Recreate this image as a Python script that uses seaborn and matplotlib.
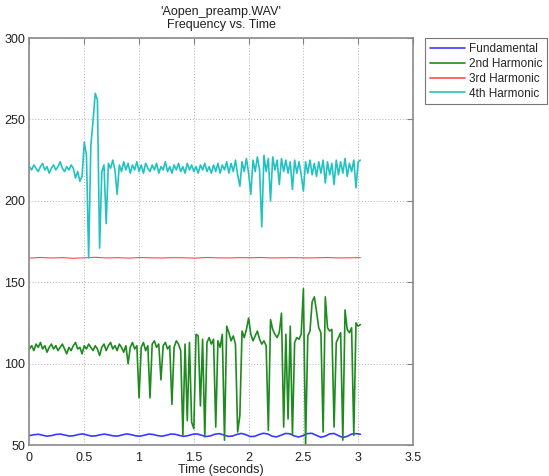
import numpy as np
import pandas as pd
import matplotlib
matplotlib.use("Agg")
import matplotlib.pyplot as plt
import seaborn as sns

title_lines = ["'Aopen_preamp.WAV'", "Frequency vs. Time"]
x_label = "Time (seconds)"
series_names = ["Fundamental", "2nd Harmonic", "3rd Harmonic", "4th Harmonic"]
x_ticks = [0, 0.5, 1, 1.5, 2, 2.5, 3, 3.5]
x_tick_labels = ["0", "0.5", "1", "1.5", "2", "2.5", "3", "3.5"]
y_ticks = [50, 100, 150, 200, 250, 300]

fundamental = [55.8, 56.3, 56.6, 56.0, 55.4, 55.8, 56.5, 56.7, 56.1, 55.5, 55.7, 56.4, 56.8, 56.2,
               55.5, 55.6, 56.3, 56.7, 56.2, 55.6, 55.5, 56.2, 56.8, 56.4, 55.7, 55.4, 56.0, 56.7,
               56.5, 55.8, 55.4, 56.0, 56.7, 56.6, 55.9, 55.3, 55.8, 56.6, 56.8, 56.0, 55.2, 55.6,
               56.6, 57.0, 56.2, 55.3, 55.5, 56.5, 57.1, 56.4, 55.2, 55.3, 56.4, 57.2, 56.8, 55.4,
               55.0, 56.0, 57.1, 56.9, 55.6, 54.9, 55.8, 57.0, 57.2, 56.0, 54.8, 55.4, 56.8, 57.1,
               55.8, 54.6, 55.3, 56.7, 57.0, 56.6]

harmonic2 = [109, 111, 108, 112, 110, 113, 109, 111, 107, 110,
             112, 109, 111, 108, 110, 112, 109, 106, 110, 108,
             111, 113, 109, 110, 106, 111, 109, 112, 110, 108,
             111, 109, 105, 110, 112, 108, 111, 113, 109, 111,
             108, 112, 110, 107, 111, 100, 110, 113, 109, 111,
             79, 110, 113, 108, 111, 79, 112, 114, 110, 112,
             90, 111, 113, 109, 111, 75, 110, 114, 112, 108,
             56, 112, 65, 113, 64, 60, 118, 117, 74, 115,
             55, 113, 116, 112, 115, 61, 114, 110, 118, 53,
             123, 119, 114, 117, 112, 58, 68, 120, 116, 121,
             128, 118, 114, 117, 120, 115, 112, 114, 111, 59,
             127, 121, 118, 116, 119, 131, 61, 118, 66, 123,
             56, 113, 116, 115, 118, 146, 50, 117, 120, 138,
             141, 132, 122, 119, 58, 141, 122, 120, 121, 61,
             113, 116, 119, 53, 133, 121, 119, 122, 56, 125,
             123, 124]

harmonic3 = [164.8, 165.2, 164.9, 165.1, 164.7, 165.0, 165.3, 164.9, 165.1, 164.8, 165.2,
             165.0, 164.9, 165.1, 165.0, 164.8, 165.2, 165.0, 164.9, 165.1, 165.0, 165.2,
             164.9, 165.0, 165.1, 164.9, 165.0, 165.2, 164.9, 165.0, 165.1]

harmonic4 = [221, 219, 222, 220, 218, 221, 223, 219, 221, 217,
             220, 222, 219, 221, 224, 220, 218, 221, 219, 222,
             220, 214, 218, 212, 215, 236, 228, 165, 234, 249,
             266, 262, 171, 218, 222, 186, 223, 220, 225, 219,
             204, 222, 218, 224, 219, 223, 217, 222, 219, 224,
             218, 222, 217, 223, 220, 218, 222, 219, 223, 217,
             221, 219, 224, 218, 221, 217, 222, 219, 223, 218,
             221, 217, 223, 219, 222, 218, 221, 217, 222, 219,
             223, 218, 221, 217, 222, 218, 223, 217, 222, 219,
             224, 217, 223, 218, 225, 216, 209, 224, 218, 226,
             217, 204, 225, 218, 227, 219, 184, 228, 218, 226,
             200, 227, 219, 225, 210, 226, 218, 225, 217, 224,
             207, 225, 217, 224, 216, 206, 224, 217, 225, 216,
             223, 215, 224, 217, 225, 211, 224, 216, 223, 210,
             225, 216, 224, 217, 226, 215, 223, 218, 225, 208,
             224, 225]

end_time = 3.02
all_values = [fundamental, harmonic2, harmonic3, harmonic4]

frames = []
for name, vals in zip(series_names, all_values):
    t = np.linspace(0, end_time, len(vals))
    frames.append(pd.DataFrame({"time": t, "freq": vals, "series": name}))
df = pd.concat(frames, ignore_index=True)

palette = {"Fundamental": "#3a3aff", "2nd Harmonic": "#1f8a1f",
           "3rd Harmonic": "#ff4a4a", "4th Harmonic": "#22c2c2"}

sns.set_style("white")
plt.rcParams["font.family"] = ["Liberation Sans", "DejaVu Sans"]

fig = plt.figure(figsize=(5.49, 4.76), dpi=100)
ax = fig.add_axes([0.0537, 0.0651, 0.6985, 0.855])

sns.lineplot(data=df, x="time", y="freq", hue="series", palette=palette,
             hue_order=series_names, estimator=None, sort=True, linewidth=1.2, ax=ax)
red_rgb = matplotlib.colors.to_rgb(palette["3rd Harmonic"])
for line in ax.lines:
    if np.allclose(matplotlib.colors.to_rgb(line.get_color()), red_rgb):
        line.set_linewidth(0.8)

ax.set_xlim(0, 3.5)
ax.set_ylim(50, 300)
ax.set_xticks(x_ticks)
ax.set_xticklabels(x_tick_labels)
ax.set_yticks(y_ticks)
ax.set_xlabel(x_label, fontsize=9, color="#222222", labelpad=0)
ax.set_ylabel("")
ax.set_title("\n".join(title_lines), fontsize=9, color="#222222", pad=7, linespacing=1.1)

ax.grid(True, linestyle=(0, (1, 2)), color="#b0b0b0", linewidth=0.7)
ax.tick_params(direction="in", length=4, width=0.8, color="#808080",
               top=True, right=True, labelsize=9, labelcolor="#222222", pad=3)
ax.tick_params(axis="x", pad=5)
for sp in ax.spines.values():
    sp.set_visible(True)
    sp.set_color("#8a8a8a")
    sp.set_linewidth(1.2)

handles, labels = ax.get_legend_handles_labels()
leg = ax.legend(handles, labels, loc="upper left", bbox_to_anchor=(1.031, 1.0),
                frameon=True, fontsize=8.5, handlelength=3.0, handletextpad=0.35,
                borderpad=0.4, labelspacing=0.25, borderaxespad=0, fancybox=False)
leg.get_frame().set_edgecolor("#555555")
leg.get_frame().set_linewidth(0.8)
for lh in leg.get_lines():
    lh.set_linewidth(1.2)

fig.savefig("out.png", dpi=100)
